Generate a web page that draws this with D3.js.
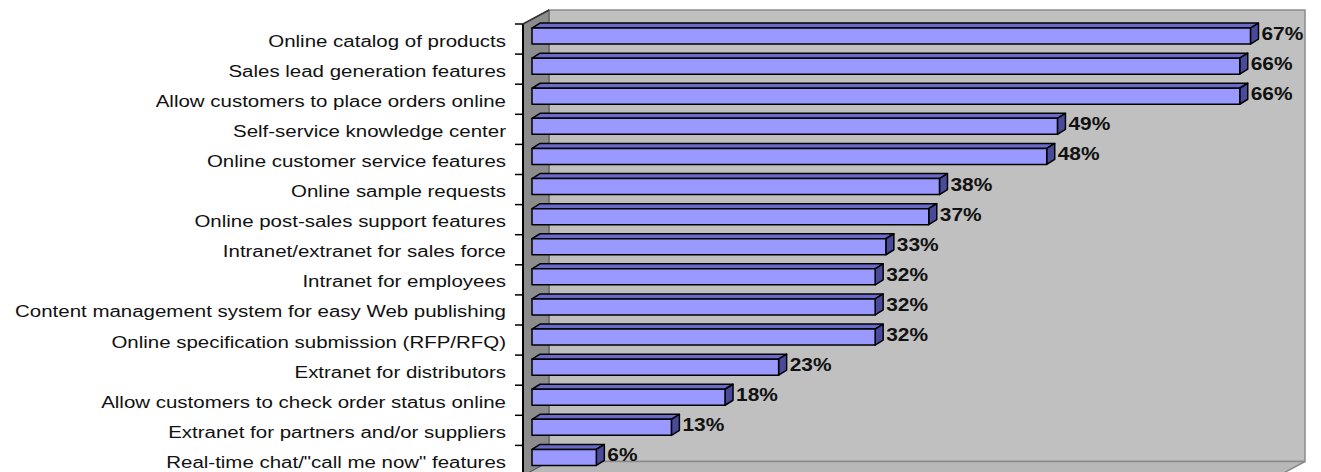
<!DOCTYPE html>
<html>
<head>
<meta charset="utf-8">
<script src="https://cdn.jsdelivr.net/npm/d3@7"></script>
<style>
  html, body { margin: 0; padding: 0; background: #ffffff; }
  svg { display: block; }
  text { font-family: "Liberation Sans", Arial, sans-serif; }
</style>
</head>
<body>
<svg id="chart" width="1321" height="472"></svg>
<script>
// Website features (share of respondents)
const categories = [
  "Online catalog of products",
  "Sales lead generation features",
  "Allow customers to place orders online",
  "Self-service knowledge center",
  "Online customer service features",
  "Online sample requests",
  "Online post-sales support features",
  "Intranet/extranet for sales force",
  "Intranet for employees",
  "Content management system for easy Web publishing",
  "Online specification submission (RFP/RFQ)",
  "Extranet for distributors",
  "Allow customers to check order status online",
  "Extranet for partners and/or suppliers",
  "Real-time chat/\"call me now\" features"
];
const values = [67, 66, 66, 49, 48, 38, 37, 33, 32, 32, 32, 23, 18, 13, 6];
const valueLabels = ["67%", "66%", "66%", "49%", "48%", "38%", "37%", "33%", "32%", "32%", "32%", "23%", "18%", "13%", "6%"];

const svg = d3.select("#chart");

// Front plane of the 3-D plot area
const plotLeft = 523, plotRight = 1279, plotTop = 24, plotBottom = 475.5;
// Depth offset of the walls and of each bar
const depth = { dx: 26, dy: -14 };
const barDepth = { dx: 8, dy: -5 };
const barShift = { dx: 9, dy: -3 };
const barHalf = 8;

const x = d3.scaleLinear().domain([0, 70.5]).range([plotLeft, plotRight]);
const y = d3.scaleBand().domain(categories).range([plotTop, plotBottom]);

const pts = a => a.map(p => p.join(",")).join(" ");

// Back wall
svg.append("rect")
  .attr("x", plotLeft + depth.dx).attr("y", plotTop + depth.dy)
  .attr("width", plotRight - plotLeft).attr("height", plotBottom - plotTop)
  .attr("fill", "#c0c0c0").attr("stroke", "#8a8a8a").attr("stroke-width", 1.5);

// Floor
svg.append("polygon")
  .attr("points", pts([[plotLeft, plotBottom], [plotRight, plotBottom], [plotRight + depth.dx, plotBottom + depth.dy], [plotLeft + depth.dx, plotBottom + depth.dy]]))
  .attr("fill", "#b8b8b8").attr("stroke", "#8a8a8a").attr("stroke-width", 1.5);

// Side wall
svg.append("polygon")
  .attr("points", pts([[plotLeft, plotTop], [plotLeft + depth.dx, plotTop + depth.dy], [plotLeft + depth.dx, plotBottom + depth.dy], [plotLeft, plotBottom]]))
  .attr("fill", "#8c8c8c").attr("stroke", "#555555").attr("stroke-width", 1);

// Bars
const bars = svg.append("g");
categories.forEach((c, i) => {
  const v = values[i];
  const cy = y(c) + y.bandwidth() / 2;
  const x0 = x(0) + barShift.dx, x1 = x(v) + barShift.dx;
  const y0 = cy - barHalf + barShift.dy, y1 = cy + barHalf + barShift.dy;
  const g = bars.append("g")
    .attr("stroke", "#000000").attr("stroke-width", 1.5).attr("stroke-linejoin", "round");
  g.append("polygon") // top face
    .attr("points", pts([[x0, y0], [x1, y0], [x1 + barDepth.dx, y0 + barDepth.dy], [x0 + barDepth.dx, y0 + barDepth.dy]]))
    .attr("fill", "#6a6ac8");
  g.append("polygon") // end face
    .attr("points", pts([[x1, y0], [x1 + barDepth.dx, y0 + barDepth.dy], [x1 + barDepth.dx, y1 + barDepth.dy], [x1, y1]]))
    .attr("fill", "#4a4a9a");
  g.append("rect") // front face
    .attr("x", x0).attr("y", y0).attr("width", x1 - x0).attr("height", y1 - y0)
    .attr("fill", "#9999ff");

  // Value label
  svg.append("text")
    .attr("transform", `translate(${x1 + barDepth.dx + 3},${y0 + 12}) scale(1.1,1)`)
    .attr("font-size", 19).attr("font-weight", "bold").attr("fill", "#111")
    .text(valueLabels[i]);
});

// Category axis line and tick marks at band boundaries
svg.append("line")
  .attr("x1", plotLeft).attr("x2", plotLeft).attr("y1", plotTop).attr("y2", plotBottom)
  .attr("stroke", "#000").attr("stroke-width", 2);
svg.append("line")
  .attr("x1", plotLeft).attr("y1", plotTop).attr("x2", plotLeft + depth.dx).attr("y2", plotTop + depth.dy)
  .attr("stroke", "#333").attr("stroke-width", 1.5);
const boundaries = categories.map(c => y(c)).concat([plotBottom]);
svg.append("g").selectAll("line").data(boundaries).join("line")
  .attr("x1", plotLeft - 8).attr("x2", plotLeft)
  .attr("y1", d => d).attr("y2", d => d)
  .attr("stroke", "#000").attr("stroke-width", 1.5);

// Category labels
svg.append("g").selectAll("text").data(categories).join("text")
  .attr("transform", d => `translate(506,${y(d) + y.bandwidth() / 2 + 7.5}) scale(1.28,1)`)
  .attr("text-anchor", "end").attr("font-size", 16).attr("fill", "#111")
  .text(d => d);
</script>
</body>
</html>
